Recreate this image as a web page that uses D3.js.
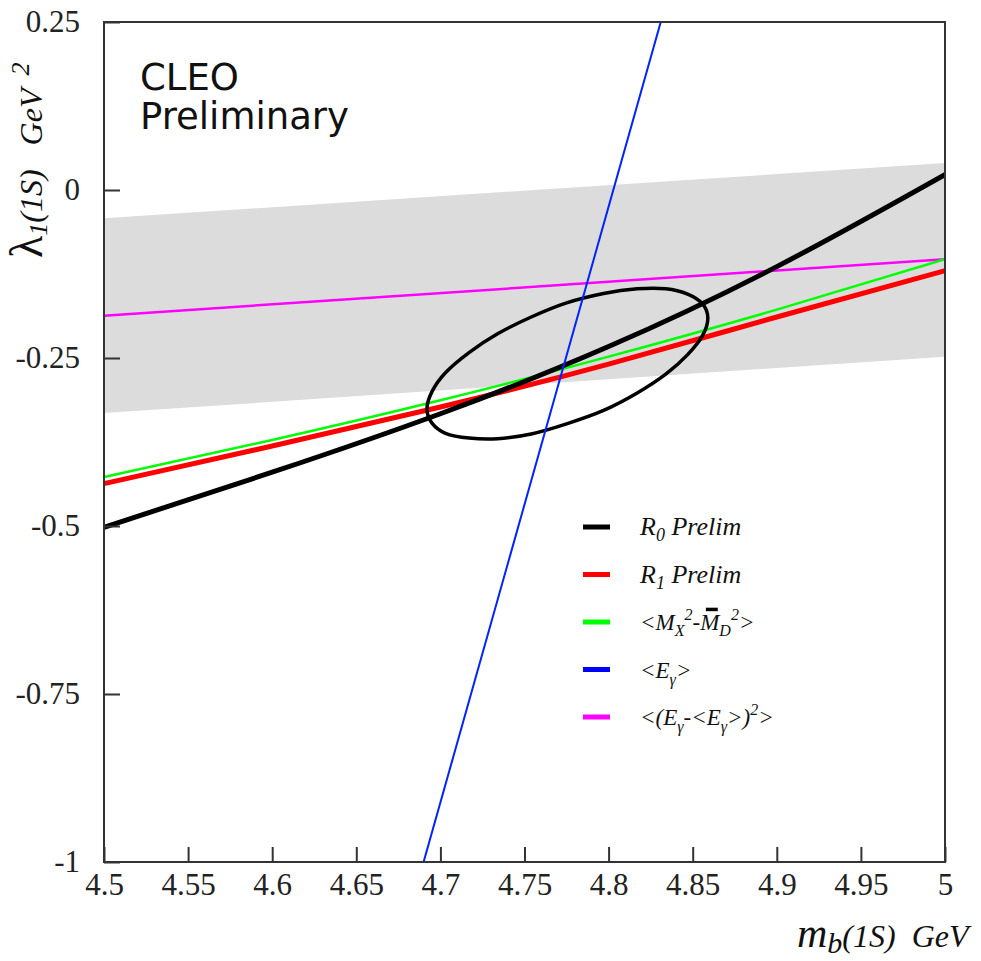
<!DOCTYPE html>
<html><head><meta charset="utf-8">
<script src="https://cdn.jsdelivr.net/npm/d3@7"></script>
<style>body{margin:0;background:#fff}</style>
</head><body>
<svg id="c" width="981" height="961"></svg>
<script>
// ---------------- data ----------------
const xTicks = [4.5, 4.55, 4.6, 4.65, 4.7, 4.75, 4.8, 4.85, 4.9, 4.95, 5];
const yTicks = [0.25, 0, -0.25, -0.5, -0.75, -1];

const bandX = [4.5, 5.0];
const bandTop = [-0.042, 0.040];
const bandBottom = [-0.332, -0.248];

const curveX = [4.5, 4.6, 4.7, 4.8, 4.9, 5.0];
const r0Y = [-0.502, -0.420, -0.333, -0.233, -0.114, 0.023];
const r1Y = [-0.437, -0.381, -0.323, -0.259, -0.189, -0.120];
const mxY = [-0.427, -0.372, -0.313, -0.248, -0.178, -0.103];

const egMomX = [4.5, 5.0];
const egMomY = [-0.187, -0.103];

const egX = [4.690, 4.831];
const egY = [-1.0, 0.25];

// 1-sigma contour (points read around the ellipse)
const ellX = [4.859, 4.856, 4.847, 4.834, 4.817, 4.797, 4.775, 4.754, 4.734, 4.717, 4.703, 4.695,
              4.692, 4.695, 4.703, 4.717, 4.734, 4.754, 4.775, 4.797, 4.817, 4.834, 4.847, 4.856];
const ellY = [-0.191, -0.170, -0.155, -0.147, -0.147, -0.154, -0.168, -0.189, -0.214, -0.242, -0.272, -0.300,
              -0.326, -0.347, -0.362, -0.369, -0.370, -0.363, -0.348, -0.328, -0.302, -0.274, -0.245, -0.216];

const legendColors = ["#000000", "#ff0000", "#00ff00", "#0000ff", "#ff00ff"];

// ---------------- layout ----------------
const svg = d3.select("#c");
const L = 104, R = 945, T = 22, B = 862;
const x = d3.scaleLinear().domain([4.5, 5.0]).range([L, R]);
const y = d3.scaleLinear().domain([-1, 0.25]).range([B, T]);
const SERIF = "Liberation Serif";
const SANS = "DejaVu Sans";

svg.append("defs").append("clipPath").attr("id", "clip")
  .append("rect").attr("x", L).attr("y", T).attr("width", R - L).attr("height", B - T);

const plot = svg.append("g").attr("clip-path", "url(#clip)");

// band
const bandPts = bandX.map((v, i) => [x(v), y(bandTop[i])])
  .concat(bandX.map((v, i) => [x(v), y(bandBottom[i])]).reverse());
plot.append("path").attr("d", "M" + bandPts.join("L") + "Z").attr("fill", "#dcdcdc");

const line = d3.line().x(d => x(d[0])).y(d => y(d[1])).curve(d3.curveNatural);
const zip = (a, b) => a.map((v, i) => [v, b[i]]);

plot.append("path").attr("d", line(zip(egMomX, egMomY))).attr("fill", "none")
  .attr("stroke", "#ff00ff").attr("stroke-width", 2.5);
plot.append("path").attr("d", line(zip(curveX, mxY))).attr("fill", "none")
  .attr("stroke", "#00ff00").attr("stroke-width", 2.5);
plot.append("path").attr("d", line(zip(curveX, r1Y))).attr("fill", "none")
  .attr("stroke", "#ff0000").attr("stroke-width", 5);
plot.append("path").attr("d", line(zip(curveX, r0Y))).attr("fill", "none")
  .attr("stroke", "#000000").attr("stroke-width", 5);

const ell = d3.line().x(d => x(d[0])).y(d => y(d[1])).curve(d3.curveCardinalClosed.tension(0));
plot.append("path").attr("d", ell(zip(ellX, ellY))).attr("fill", "none")
  .attr("stroke", "#000").attr("stroke-width", 3.5);

plot.append("path").attr("d", d3.line().x(d => x(d[0])).y(d => y(d[1]))(zip(egX, egY)))
  .attr("fill", "none").attr("stroke", "#0022ff").attr("stroke-width", 2);

// axes
const ax = svg.append("g").attr("transform", `translate(0,${B})`)
  .call(d3.axisBottom(x).tickValues(xTicks).tickSizeInner(-15).tickSizeOuter(0).tickPadding(11)
    .tickFormat(d => String(d)));
const ay = svg.append("g").attr("transform", `translate(${L},0)`)
  .call(d3.axisLeft(y).tickValues(yTicks).tickSizeInner(-16).tickSizeOuter(0).tickPadding(24)
    .tickFormat(d => String(d)));
[ax, ay].forEach(g => {
  g.attr("font-family", null).attr("font-size", null);
  g.select(".domain").remove();
  g.selectAll(".tick line").attr("stroke", "#333").attr("stroke-width", 2);
  g.selectAll(".tick text").style("font-family", SERIF).style("font-size", "31px").attr("fill", "#222");
});

// frame
svg.append("rect").attr("x", L).attr("y", T).attr("width", R - L).attr("height", B - T)
  .attr("fill", "none").attr("stroke", "#333").attr("stroke-width", 2);

// title
svg.append("text").attr("x", 140).attr("y", 90).style("font-family", SANS)
  .style("font-size", "37px").attr("fill", "#111").text("CLEO");
svg.append("text").attr("x", 140).attr("y", 129).style("font-family", SANS)
  .style("font-size", "37px").attr("fill", "#111").text("Preliminary");

// rich text as one <text> with tspans: segments [text, size, dy, italic, overline]
function rich(g, x0, y0, segs) {
  const t = g.append("text").attr("x", x0).attr("y", y0)
    .style("font-family", SERIF).style("font-style", "italic")
    .attr("fill", "#111").style("white-space", "pre");
  let prev = 0;
  const marks = [];
  let idx = 0;
  segs.forEach(s => {
    const off = s[2] || 0;
    t.append("tspan").attr("dy", off - prev)
      .style("font-size", s[1] + "px")
      .style("font-style", s[3] === false ? "normal" : "italic")
      .text(s[0]);
    prev = off;
    if (s[4]) marks.push([idx, s[1]]);
    idx += s[0].length;
  });
  const node = t.node();
  marks.forEach(([i, sz]) => {
    const a = node.getStartPositionOfChar(i).x, b = node.getEndPositionOfChar(i).x;
    const w = b - a;
    g.append("rect").attr("x", a + w * 0.3).attr("y", y0 - sz * 0.97).attr("width", w * 0.62)
      .attr("height", 3.5).attr("fill", "#000");
  });
}

// legend
const legendSegs = [
  [["R", 26], ["0", 18, 6], [" Prelim", 26]],
  [["R", 26], ["1", 18, 6], [" Prelim", 26]],
  [["<M", 23], ["X", 16, 6], ["2", 16, -10], ["-", 23], ["M", 23, 0, true, true], ["D", 16, 6], ["2", 16, -10], [">", 23]],
  [["<E", 23], ["\u03b3", 16, 7], [">", 23]],
  [["<(E", 23], ["\u03b3", 16, 7], ["-<E", 23], ["\u03b3", 16, 7], [">)", 23], ["2", 16, -10], [">", 23]]
];
const lg = svg.append("g");
legendSegs.forEach((segs, i) => {
  const yy = 527 + i * 47.5;
  lg.append("line").attr("x1", 583).attr("x2", 610).attr("y1", yy).attr("y2", yy)
    .attr("stroke", legendColors[i]).attr("stroke-width", 5);
  rich(lg, 640, yy + 8, segs);
});

// axis titles
const yt = svg.append("g").attr("transform", "translate(42,258) rotate(-90)");
rich(yt, 0, 0, [["\u03bb", 46, 0, false], ["1", 26, 5], ["(1S)", 32], ["   GeV", 32], ["  2", 26, -13]]);
const xt = svg.append("g");
rich(xt, 797, 947, [["m", 42], ["b", 30, 6], ["(1S)", 32], ["  GeV", 32]]);
</script>
</body></html>
